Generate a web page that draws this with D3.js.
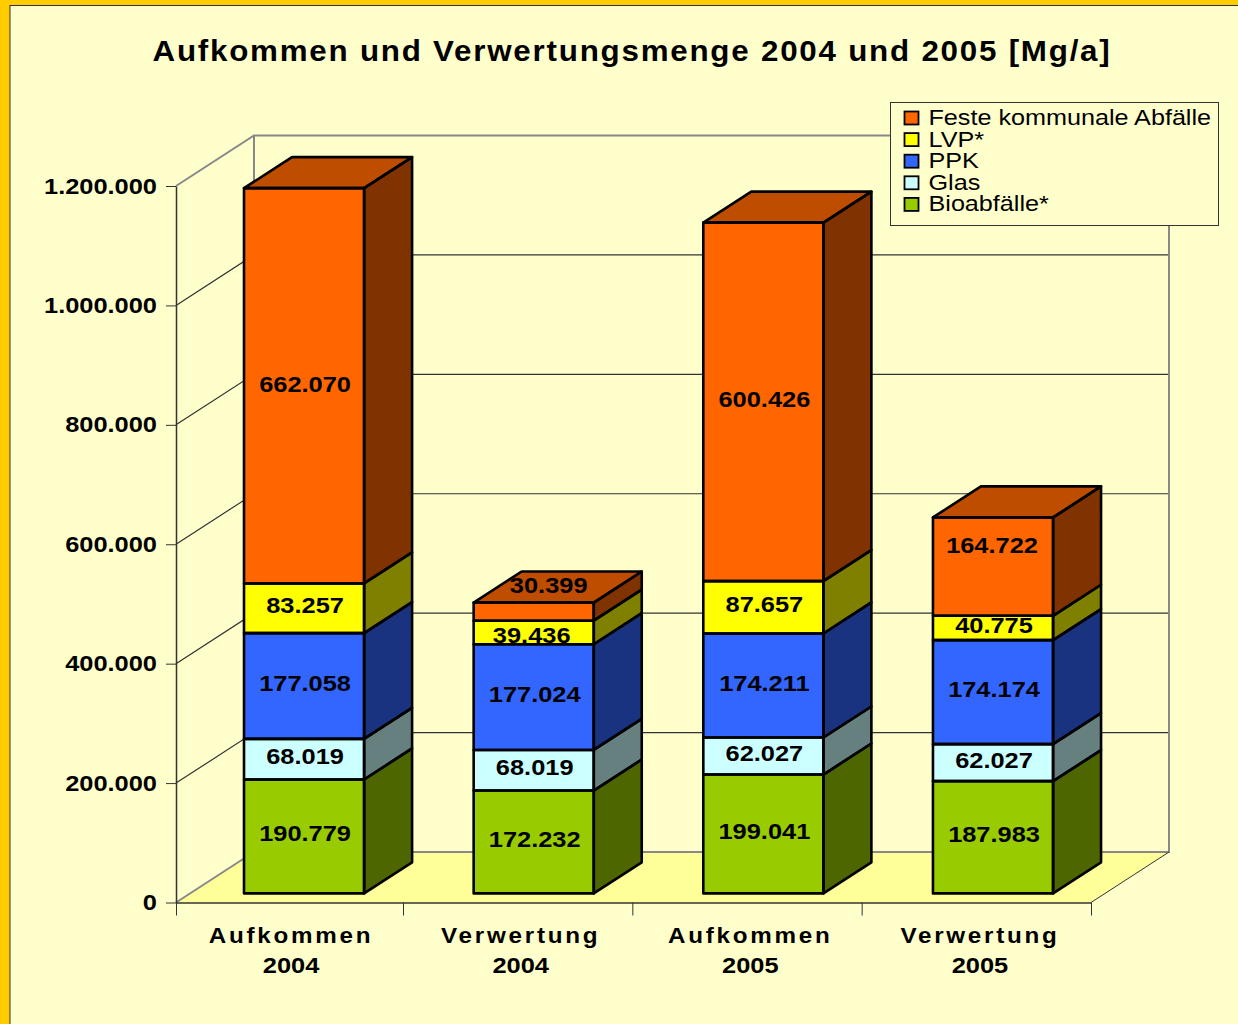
<!DOCTYPE html>
<html>
<head>
<meta charset="utf-8">
<script src="https://cdn.jsdelivr.net/npm/d3@7"></script>
<style>
html, body { margin: 0; padding: 0; background: #ffffcc; }
svg { display: block; }
text { font-family: "Liberation Sans", Arial, sans-serif; fill: #000; }
.bold { font-weight: bold; }
</style>
</head>
<body>
<div id="chart"></div>
<script>
var categories = [["Aufkommen", "2004"], ["Verwertung", "2004"], ["Aufkommen", "2005"], ["Verwertung", "2005"]];
var bioabfaelle = [190779, 172232, 199041, 187983];
var glas = [68019, 68019, 62027, 62027];
var ppk = [177058, 177024, 174211, 174174];
var lvp = [83257, 39436, 87657, 40775];
var feste = [662070, 30399, 600426, 164722];
var y_ticks = [0, 200000, 400000, 600000, 800000, 1000000, 1200000];
var title = "Aufkommen und Verwertungsmenge 2004 und 2005 [Mg/a]";

// bottom to top, legend is the other way round
var series = [
	{name: "Bioabfälle*", values: bioabfaelle, front: "#99cc00", top: "#73990a", side: "#4d6600"},
	{name: "Glas", values: glas, front: "#ccffff", top: "#99bfbf", side: "#668080"},
	{name: "PPK", values: ppk, front: "#3366ff", top: "#264dbf", side: "#1a3380"},
	{name: "LVP*", values: lvp, front: "#ffff00", top: "#bfbf00", side: "#808000"},
	{name: "Feste kommunale Abfälle", values: feste, front: "#ff6600", top: "#bf4d00", side: "#803300"}
];

var de = d3.formatLocale({decimal: ",", thousands: ".", grouping: [3], currency: ["", "€"]}).format(",d");

var width = 1238, height = 1024;
var left = 176, bottom = 902.5, plot_w = 915, plot_h = 716.5;
var depth_x = 78, depth_y = 50.5;
var stretch = 1.155;

var svg = d3.select("#chart").append("svg")
	.attr("width", width)
	.attr("height", height);

// yellow frame, only left and top show
svg.append("rect").attr("width", width).attr("height", height).attr("fill", "#ffcc00");
svg.append("rect")
	.attr("x", 10).attr("y", 5.5)
	.attr("width", width).attr("height", height)
	.attr("fill", "#ffffcc")
	.attr("stroke", "#333")
	.attr("stroke-width", 1);

// bars step a touch wider than the axis in the original
var x = d3.scaleBand()
	.domain(d3.range(categories.length))
	.range([0, 917])
	.paddingInner(0.477)
	.paddingOuter(0.235);

var y = d3.scaleLinear()
	.domain([0, 1200000])
	.range([plot_h, 0]);

// z goes 0 (front) to 1 (back wall)
function pt(px, py, z){
	return [left + px + z * depth_x, bottom - plot_h + py - z * depth_y];
}
function poly(points){
	return "M" + points.join("L") + "Z";
}

var grey = "#888888", line = "#333333";

// floor
svg.append("path")
	.attr("d", poly([pt(0, plot_h, 0), pt(plot_w, plot_h, 0), pt(plot_w, plot_h, 1), pt(0, plot_h, 1)]))
	.attr("fill", "#ffff99");

// grid on back wall and left wall
svg.append("g").selectAll("path")
	.data(y_ticks.filter(function(d){ return d > 0 && d < 1200000; }))
	.enter().append("path")
	.attr("d", function(d){
		return "M" + pt(0, y(d), 0) + "L" + pt(0, y(d), 1) + "L" + pt(plot_w, y(d), 1);
	})
	.attr("fill", "none")
	.attr("stroke", line)
	.attr("stroke-width", 1.2);

// walls
svg.append("path")
	.attr("d", "M" + pt(0, y(1200000), 0) + "L" + pt(0, y(1200000), 1) + "L" + pt(plot_w, y(1200000), 1)
		+ "L" + pt(plot_w, plot_h, 1) + "L" + pt(0, plot_h, 1) + "L" + pt(0, y(1200000), 1)
		+ "M" + pt(0, plot_h, 0) + "L" + pt(0, plot_h, 1))
	.attr("fill", "none")
	.attr("stroke", grey)
	.attr("stroke-width", 2);
svg.append("path")
	.attr("d", "M" + pt(plot_w, plot_h, 0) + "L" + pt(plot_w, plot_h, 1))
	.attr("fill", "none")
	.attr("stroke", line)
	.attr("stroke-width", 1);

// axes
var y_axis = d3.axisLeft(y).tickValues(y_ticks).tickFormat(de).tickSize(10).tickSizeOuter(0);
var g_y = svg.append("g")
	.attr("transform", "translate(" + left + "," + (bottom - plot_h) + ")")
	.call(y_axis);
g_y.select(".domain").attr("stroke", line).attr("stroke-width", 1.5);
g_y.selectAll(".tick line").attr("stroke", line);
g_y.selectAll(".tick text")
	.attr("class", "bold")
	.style("font-size", "22px")
	.attr("x", 0).attr("dy", null).attr("dominant-baseline", null)
	.attr("transform", "translate(-19,7) scale(" + stretch + ",1)");

// first tick step is a bit short in the original
var x_edges = d3.scaleLinear().domain([0, 1, categories.length]).range([0, 227, plot_w]);
var x_axis = d3.axisBottom(x_edges).tickValues(d3.range(categories.length + 1)).tickFormat("").tickSize(13).tickSizeOuter(0);
var g_x = svg.append("g")
	.attr("transform", "translate(" + left + "," + bottom + ")")
	.call(x_axis);
g_x.select(".domain").attr("stroke", line).attr("stroke-width", 1.5);
g_x.selectAll(".tick line").attr("stroke", line);

// category labels
var cat = svg.append("g").selectAll("g")
	.data(categories)
	.enter().append("g")
	.attr("transform", function(d, i){
		return "translate(" + (left + x(i) + x.bandwidth() / 2 + 1) + ",0)";
	});
cat.append("text")
	.attr("class", "bold")
	.attr("text-anchor", "middle")
	.attr("transform", "translate(0,943) scale(1.1,1)")
	.style("font-size", "22px")
	.style("letter-spacing", "2.5px")
	.text(function(d){ return d[0]; });
cat.append("text")
	.attr("class", "bold")
	.attr("text-anchor", "middle")
	.attr("transform", "translate(0,973) scale(" + stretch + ",1)")
	.style("font-size", "22px")
	.text(function(d){ return d[1]; });

// bars, stacked from the floor up
var z0 = 0.18, z1 = 0.795;
var bars = svg.append("g").selectAll("g")
	.data(categories)
	.enter().append("g");

bars.each(function(c, i){
	var g = d3.select(this);
	var x0 = x(i), x1 = x(i) + x.bandwidth();
	var base = 0;
	series.forEach(function(s, si){
		var v0 = base, v1 = base + s.values[i];
		base = v1;
		g.append("path")
			.attr("d", poly([pt(x1, y(v0), z0), pt(x1, y(v0), z1), pt(x1, y(v1), z1), pt(x1, y(v1), z0)]))
			.attr("fill", s.side);
		g.append("path")
			.attr("d", poly([pt(x0, y(v0), z0), pt(x1, y(v0), z0), pt(x1, y(v1), z0), pt(x0, y(v1), z0)]))
			.attr("fill", s.front);
		if (si == series.length - 1) {
			g.append("path")
				.attr("d", poly([pt(x0, y(v1), z0), pt(x1, y(v1), z0), pt(x1, y(v1), z1), pt(x0, y(v1), z1)]))
				.attr("fill", s.top);
		}
	});
	// outlines afterwards so the faces don't cover them
	base = 0;
	series.forEach(function(s, si){
		var v0 = base, v1 = base + s.values[i];
		base = v1;
		[
			[pt(x1, y(v0), z0), pt(x1, y(v0), z1), pt(x1, y(v1), z1), pt(x1, y(v1), z0)],
			[pt(x0, y(v0), z0), pt(x1, y(v0), z0), pt(x1, y(v1), z0), pt(x0, y(v1), z0)]
		].concat(si == series.length - 1 ? [[pt(x0, y(v1), z0), pt(x1, y(v1), z0), pt(x1, y(v1), z1), pt(x0, y(v1), z1)]] : [])
		.forEach(function(p){
			g.append("path")
				.attr("d", poly(p))
				.attr("fill", "none")
				.attr("stroke", "#000")
				.attr("stroke-width", 2.6)
				.attr("stroke-linejoin", "round");
		});
	});
});

// value labels. a few of them don't sit centred in the original
function nudge(si, i){
	if (i == 1 && si == 4) return [14, -26];
	if (i == 1 && si == 3) return [-3, 3];
	if (i == 3 && si == 4) return [-2, -21];
	if (i == 0 && si == 4) return [0, -1.5];
	return [0, -2.5];
}
bars.each(function(c, i){
	var g = d3.select(this);
	var base = 0;
	series.forEach(function(s, si){
		var v0 = base, v1 = base + s.values[i];
		base = v1;
		var p = pt(x(i) + x.bandwidth() / 2, y((v0 + v1) / 2), z0), n = nudge(si, i);
		g.append("text")
			.attr("class", "bold")
			.attr("text-anchor", "middle")
			.attr("transform", "translate(" + (p[0] + n[0] + 1) + "," + (p[1] + n[1] + 7.5) + ") scale(" + stretch + ",1)")
			.style("font-size", "22px")
			.text(de(s.values[i]));
	});
});

// title
svg.append("text")
	.attr("class", "bold")
	.attr("text-anchor", "middle")
	.attr("transform", "translate(632,61) scale(1.08,1)")
	.style("font-size", "29px")
	.style("letter-spacing", "1.65px")
	.text(title);

// legend
var lg = svg.append("g").attr("transform", "translate(890.5,102.5)");
lg.append("rect")
	.attr("width", 328).attr("height", 123)
	.attr("fill", "#ffffcc")
	.attr("stroke", "#333")
	.attr("stroke-width", 1);
var row = lg.selectAll(".row")
	.data(series.slice().reverse())
	.enter().append("g")
	.attr("class", "row")
	.attr("transform", function(d, i){ return "translate(0," + (15.5 + i * 21.6) + ")"; });
row.append("rect")
	.attr("x", 14).attr("y", -6.5)
	.attr("width", 14).attr("height", 13)
	.attr("fill", function(d){ return d.front; })
	.attr("stroke", "#000")
	.attr("stroke-width", 1.8);
row.append("text")
	.attr("transform", "translate(38,7) scale(1.145,1)")
	.style("font-size", "22px")
	.text(function(d){ return d.name; });
</script>
</body>
</html>
